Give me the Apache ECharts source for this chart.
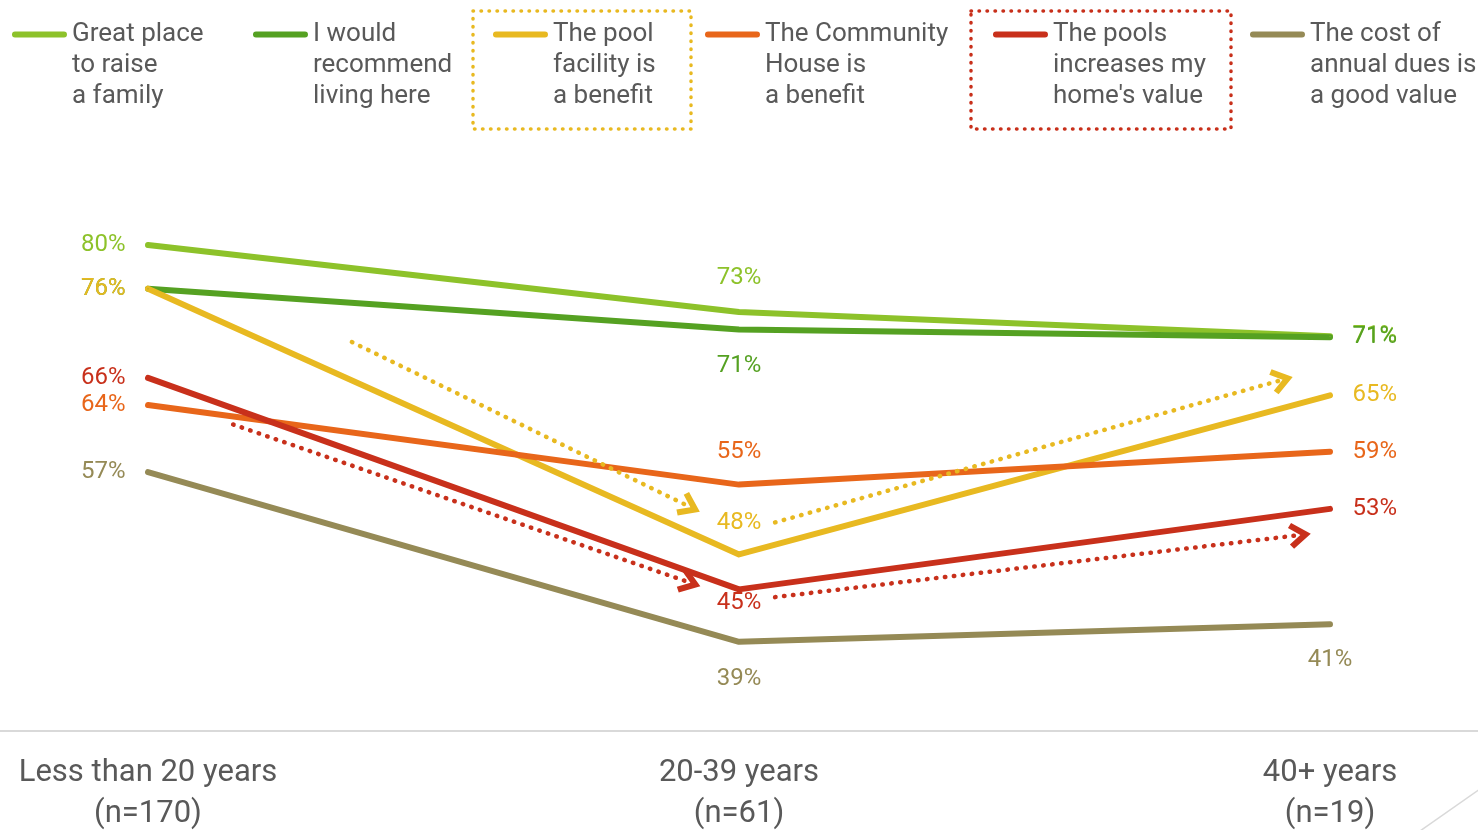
<!DOCTYPE html>
<html lang="en" style="height: 100%">
<head>
<meta charset="utf-8">
<title>Agreement by years of residence</title>
</head>
<body style="height: 100%; margin: 0">
<div id="container" style="height: 100%"></div>

<script type="text/javascript" src="https://cdn.jsdelivr.net/npm/echarts@6/dist/echarts.min.js"></script>

<script type="text/javascript">

var categories = ['Less than 20 years\n(n=170)', '20-39 years\n(n=61)', '40+ years\n(n=19)'];

var seriesNames = [
    'Great place\nto raise\na family',
    'I would\nrecommend\nliving here',
    'The pool\nfacility is\na benefit',
    'The Community\nHouse is\na benefit',
    'The pools\nincreases my\nhome\'s value',
    'The cost of\nannual dues is\na good value'
];

// percentages (labels show them rounded)
var raiseFamily = [80.1, 73.2, 70.7];
var recommend   = [75.6, 71.4, 70.6];
var poolFacility = [75.6, 48.2, 64.6];
var communityHouse = [63.6, 55.4, 58.8];
var homeValue   = [66.4, 44.6, 52.9];
var duesValue   = [56.7, 39.2, 41.0];

var seriesValues = [raiseFamily, recommend, poolFacility, communityHouse, homeValue, duesValue];
var colors = ['#8DC22A', '#55A122', '#E8B921', '#E8661A', '#C8301B', '#958A56'];

// label placement per series per point: [position, distance]
var labelPlace = [
    [['left', 22], ['top', 21], ['right', 22]],
    [['left', 22], ['bottom', 20], ['right', 22]],
    [['left', 22], ['top', 19], ['right', 22]],
    [['left', 22], ['top', 20], ['right', 22]],
    [['left', 22], ['bottom', -3], ['right', 22]],
    [['left', 22], ['bottom', 21], ['bottom', 19]]
];

// dotted annotation arrows (series index, from [x, y], to [x, y]) in data units
var arrowNotes = [
    [2, [0.345, 70.1], [0.917, 53.1]],
    [2, [1.061, 51.5], [1.919, 66.2]],
    [4, [0.144, 61.6], [0.917, 45.3]],
    [4, [1.061, 43.8], [1.949, 50.2]]
];

var legendLeft = [12, 253, 493, 705, 993, 1250];

var FONT = 'Roboto';
var textGray = '#595959';
var chevron = 'path://M5,0 L10,8 L8.2,9.6 L5,4.6 L1.8,9.6 L0,8 Z';
// legend line sits at the top of a tall icon box so it lines up with the first text line
var legendIcon = 'path://M3,0 H52 A3,3 0 0 1 52,6 H3 A3,3 0 0 1 3,0 Z M27,68 L27.01,68 L27,68.01 Z';

var dom = document.getElementById('container');
var myChart = echarts.init(dom);

var xPad = 148 / 591;

var series = seriesNames.map(function (name, i) {
    var notes = arrowNotes.filter(function (a) { return a[0] === i; });
    return {
        name: name,
        type: 'line',
        symbol: 'circle',
        symbolSize: 1,
        silent: true,
        itemStyle: { color: colors[i] },
        lineStyle: { color: colors[i], width: 6, cap: 'round', join: 'round' },
        label: {
            show: true,
            color: colors[i],
            fontFamily: FONT,
            fontSize: 24,
            padding: [4, 0, 0, 0],
            formatter: function (p) { return Math.round(p.value[1]) + '%'; }
        },
        data: seriesValues[i].map(function (v, j) {
            return {
                value: [j, v],
                label: { position: labelPlace[i][j][0], distance: labelPlace[i][j][1] }
            };
        }),
        markLine: notes.length ? {
            silent: true,
            animation: false,
            symbol: ['none', chevron],
            symbolSize: [26, 22],
            label: { show: false },
            lineStyle: { color: colors[i], width: 4.5, type: [0.5, 8.5], cap: 'round' },
            data: notes.map(function (a) {
                return [{ coord: a[1] }, { coord: a[2] }];
            })
        } : undefined
    };
});

var legends = seriesNames.map(function (name, i) {
    return {
        data: [name],
        left: legendLeft[i],
        top: 19,
        padding: 0,
        selectedMode: false,
        icon: legendIcon,
        itemWidth: 55,
        itemHeight: 68,
        textStyle: {
            color: textGray,
            fontFamily: FONT,
            fontSize: 26,
            lineHeight: 31
        }
    };
});

option = {
    backgroundColor: '#ffffff',
    animation: false,
    legend: legends,
    grid: { left: 0, right: 0, top: 52, bottom: 99, outerBoundsMode: 'none', containLabel: false },
    xAxis: {
        type: 'value',
        min: -xPad,
        max: 2 + xPad,
        splitLine: { show: false },
        axisTick: { show: false },
        axisLine: { show: true, lineStyle: { color: '#d9d9d9', width: 2 } },
        axisLabel: {
            customValues: [0, 1, 2],
            formatter: function (v) { return categories[Math.round(v)]; },
            color: textGray,
            fontFamily: FONT,
            fontSize: 31,
            lineHeight: 41,
            margin: 22
        }
    },
    yAxis: {
        type: 'value',
        min: 30,
        max: 100,
        show: false
    },
    graphic: [
        {
            type: 'rect',
            shape: { x: 473, y: 11, width: 218, height: 118 },
            style: { fill: 'none', stroke: '#E8B921', lineWidth: 3.5, lineDash: [0.5, 7.5], lineCap: 'round' }
        },
        {
            type: 'rect',
            shape: { x: 971, y: 11, width: 260, height: 118 },
            style: { fill: 'none', stroke: '#C8301B', lineWidth: 3.5, lineDash: [0.5, 7.5], lineCap: 'round' }
        },
        {
            type: 'line',
            shape: { x1: 1420, y1: 831, x2: 1480, y2: 789 },
            style: { stroke: '#d9d9d9', lineWidth: 1.5 }
        }
    ],
    series: series
};

if (option && typeof option === 'object') {
    myChart.setOption(option);
}

window.addEventListener('resize', myChart.resize);
</script>
</body>
</html>
